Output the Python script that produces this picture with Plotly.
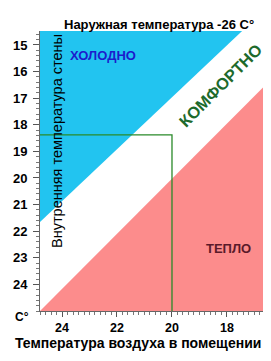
import plotly.graph_objects as go

# ---- data ----
air_range = [24.8, 16.69]          # x axis (reversed)
wall_range = [25.0, 14.475]        # y axis (reversed)
x_ticks = [24, 22, 20, 18]
y_ticks = [15, 16, 17, 18, 19, 20, 21, 22, 23, 24]

cold_air = [24.8, 17.45, 24.8]
cold_wall = [14.475, 14.475, 21.65]
warm_air = [16.69, 16.69, 24.8]
warm_wall = [16.6, 25.0, 25.0]

example_air = [24.8, 20.0, 20.0]
example_wall = [18.38, 18.38, 25.0]

FONT = "Liberation Sans, Arial, sans-serif"

fig = go.Figure()
fig.add_trace(go.Scatter(x=cold_air, y=cold_wall, fill="toself", mode="none",
                         fillcolor="#22c4f0", hoverinfo="skip"))
fig.add_trace(go.Scatter(x=warm_air, y=warm_wall, fill="toself", mode="none",
                         fillcolor="#fc8c8c", hoverinfo="skip"))
fig.add_trace(go.Scatter(x=example_air, y=example_wall, mode="lines",
                         line=dict(color="#2a8a2a", width=1.3), hoverinfo="skip"))

ann = []
ann.append(dict(text="<b>Наружная температура -26 C°</b>", xref="paper", yref="paper",
                x=0.534, y=1.0, yanchor="bottom", yshift=-3, showarrow=False,
                font=dict(size=13, color="black", family=FONT)))
ann.append(dict(text="Внутренняя температура стены", xref="paper", yref="paper",
                x=0.031, y=0.607, textangle=-90, showarrow=False,
                font=dict(size=14.5, color="black", family=FONT)))
ann.append(dict(text="<b>ХОЛОДНО</b>", x=22.5, y=15.4, showarrow=False,
                font=dict(size=13, color="#1c1ccc", family=FONT)))
ann.append(dict(text="<b>КОМФОРТНО</b>", x=18.22, y=16.52, textangle=-45, showarrow=False,
                font=dict(size=16.5, color="#1d6a2c", family=FONT)))
ann.append(dict(text="<b>ТЕПЛО</b>", x=17.95, y=22.65, showarrow=False,
                font=dict(size=13, color="#5a1a2a", family=FONT)))
ann.append(dict(text="<b>C°</b>", xref="paper", yref="paper", x=-0.081, y=-0.021,
                xanchor="center", yanchor="middle",
                showarrow=False, font=dict(size=12, color="black", family=FONT)))
ann.append(dict(text="<b>Температура воздуха в помещении</b>", xref="paper", yref="paper",
                x=0.44, y=-0.114, yanchor="middle", showarrow=False,
                font=dict(size=14, color="black", family=FONT)))

fig.update_layout(
    width=271, height=361,
    margin=dict(l=40, r=8, t=31, b=50, autoexpand=False),
    paper_bgcolor="white", plot_bgcolor="white",
    showlegend=False,
    annotations=ann,
    xaxis=dict(range=air_range, tickvals=x_ticks, ticktext=[f"<b>{v}</b>" for v in x_ticks],
               ticks="outside", ticklen=5, tickcolor="#555", showline=True, linecolor="#666",
               showgrid=False, zeroline=False, automargin=False,
               minor=dict(dtick=0.2, ticks="outside", ticklen=2.5, tickcolor="#777", showgrid=False),
               tickfont=dict(size=12.5, color="black", family=FONT)),
    yaxis=dict(range=wall_range, tickvals=y_ticks, ticktext=[f"<b>{v}</b>" for v in y_ticks],
               ticks="outside", ticklen=6, tickcolor="#555", showline=True, linecolor="#666",
               showgrid=False, zeroline=False, automargin=False, ticklabelstandoff=3,
               minor=dict(dtick=0.2, ticks="outside", ticklen=3, tickcolor="#777", showgrid=False),
               tickfont=dict(size=13, color="black", family=FONT)),
)
fig.write_html("out.html", config={"displayModeBar": False},
               post_script="document.body.style.margin='0';document.body.style.padding='0';")
